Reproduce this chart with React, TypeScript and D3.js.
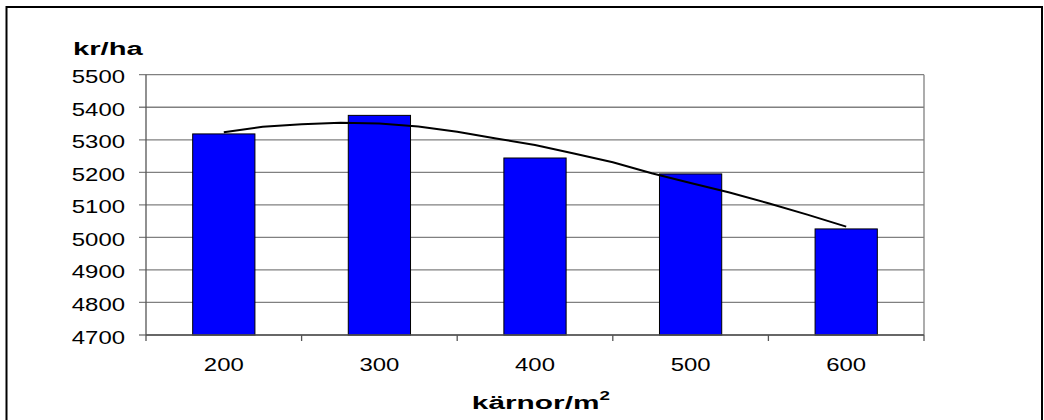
import React from "react";
import * as d3 from "d3";

const categories = ["200", "300", "400", "500", "600"];
const values = [5318, 5375, 5244, 5195, 5026];
const yTicks = [4700, 4800, 4900, 5000, 5100, 5200, 5300, 5400, 5500];
// trend line points (x in kärnor/m², y in kr/ha)
const trendX = [200, 225, 250, 275, 300, 325, 350, 375, 400, 425, 450, 475, 500, 525, 550, 575, 600];
const trendY = [5323, 5340, 5348, 5352, 5350, 5341, 5325, 5304, 5284, 5258, 5231, 5197, 5167, 5138, 5105, 5070, 5033];

export default function App() {
  const W = 1044, H = 420;
  const left = 146, right = 924, top = 74.7, bottom = 335;
  const x = d3.scaleBand<string>().domain(categories).range([left, right]).paddingInner(0).paddingOuter(0);
  const y = d3.scaleLinear().domain([4700, 5500]).range([bottom, top]);
  const bw = x.bandwidth() * 0.4;
  const xNum = d3.scaleLinear().domain([200, 600]).range([left + x.bandwidth() / 2, right - x.bandwidth() / 2]);
  const line = d3.line<number>().x((_, i) => xNum(trendX[i])).y((d) => y(d)).curve(d3.curveLinear);
  const font = "Arial, 'Liberation Sans', sans-serif";
  const boundaries = d3.range(categories.length + 1).map((i) => left + i * x.bandwidth());
  const sx = 1.33;
  const sxb = 1.62;

  return (
    <svg width={W} height={H} style={{ position: "absolute", left: 0, top: 0, background: "#fff" }} fontFamily={font}>
      <rect x={6.5} y={7} width={1035.5} height={440} fill="#fff" stroke="#000" strokeWidth={2} />
      {/* plot border right */}
      <line x1={right} x2={right} y1={top} y2={bottom} stroke="#808080" strokeWidth={1.3} />
      {/* grid */}
      {yTicks.map((t) => (
        <line key={t} x1={left - 7} x2={right} y1={y(t)} y2={y(t)} stroke="#808080" strokeWidth={1.3} />
      ))}
      {/* bars */}
      {categories.map((c, i) => (
        <rect
          key={c}
          x={x(c)! + (x.bandwidth() - bw) / 2}
          y={y(values[i])}
          width={bw}
          height={bottom - y(values[i])}
          fill="#0000FF"
          stroke="#000"
          strokeWidth={1}
        />
      ))}
      {/* trend line */}
      <path d={line(trendY) || ""} fill="none" stroke="#000" strokeWidth={2} />
      {/* axes */}
      <line x1={left} x2={left} y1={top} y2={bottom} stroke="#555" strokeWidth={1.3} />
      <line x1={left} x2={right} y1={bottom} y2={bottom} stroke="#555" strokeWidth={1.3} />
      {boundaries.map((b, i) => (
        <line key={i} x1={b} x2={b} y1={bottom} y2={bottom + 6} stroke="#555" strokeWidth={1.3} />
      ))}
      {yTicks.map((t) => (
        <g key={t} transform={`translate(125,${y(t) + 8.5}) scale(${sx},1)`}>
          <text x={0} y={0} textAnchor="end" fontSize={18} fill="#000">
            {t}
          </text>
        </g>
      ))}
      {categories.map((c) => (
        <g key={c} transform={`translate(${x(c)! + x.bandwidth() / 2},370.7) scale(${sx},1)`}>
          <text x={0} y={0} textAnchor="middle" fontSize={18} fill="#000">
            {c}
          </text>
        </g>
      ))}
      <g transform={`translate(73,55.3) scale(${sxb},1)`}>
        <text x={0} y={0} fontSize={18} fontWeight="bold" fill="#000">kr/ha</text>
      </g>
      <g transform={`translate(${(471.7 + 610) / 2},409) scale(1.57,1)`}>
        <text x={0} y={0} textAnchor="middle" fontSize={19} fontWeight="bold" fill="#000">
          kärnor/m<tspan fontSize={12} dy={-9}>2</tspan>
        </text>
      </g>
    </svg>
  );
}
